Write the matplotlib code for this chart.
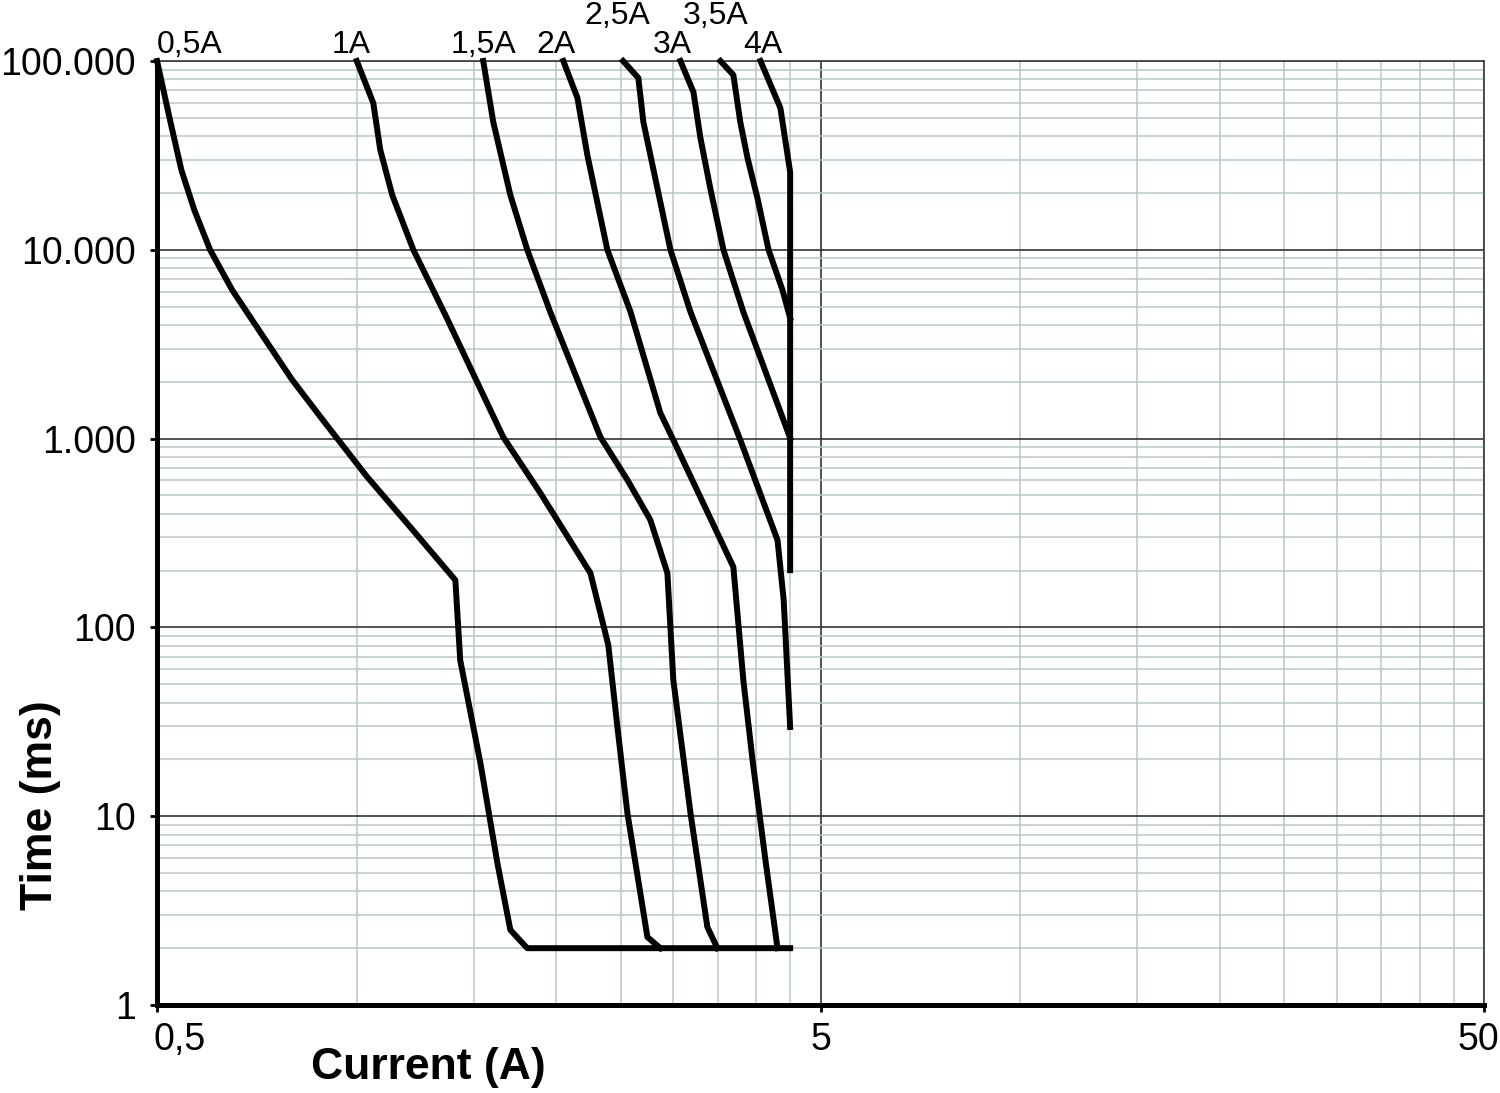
import numpy as np
import matplotlib
matplotlib.use('Agg')
import matplotlib.pyplot as plt
from matplotlib.ticker import FixedLocator, FixedFormatter, NullFormatter
from matplotlib.transforms import ScaledTranslation

plt.rcParams['font.family'] = ['Liberation Sans', 'DejaVu Sans']

# trip curves (current in A, time in ms)
i_05 = [0.50, 0.523, 0.544, 0.569, 0.601, 0.649, 0.720, 0.799, 0.896, 1.037, 1.204, 1.408, 1.432, 1.536, 1.629, 1.704, 1.807, 4.50]
t_05 = [100000, 48700, 26500, 16250, 10000, 6120, 3540, 2050, 1210, 626, 340, 178, 67, 19.1, 5.65, 2.5, 2.0, 2.0]

i_1 = [1.00, 1.059, 1.085, 1.131, 1.217, 1.36, 1.662, 1.891, 2.25, 2.394, 2.47, 2.558, 2.742, 2.868]
t_1 = [100000, 59900, 33800, 19500, 10000, 4515, 1020, 515, 194, 80.7, 30, 10.4, 2.29, 2.0]

i_15 = [1.551, 1.606, 1.704, 1.807, 1.957, 2.329, 2.558, 2.77, 2.939, 3.0, 3.184, 3.376, 3.496]
t_15 = [100000, 47500, 19500, 10000, 4690, 1020, 604, 371, 194, 52.7, 10.4, 2.59, 2.0]

i_2 = [2.048, 2.151, 2.226, 2.386, 2.586, 2.868, 3.0, 3.695, 3.825, 3.949, 4.13, 4.307]
t_2 = [100000, 63700, 31800, 10000, 4690, 1367, 984, 209, 52.7, 19.9, 5.86, 2.0]

i_25 = [2.52, 2.657, 2.704, 2.97, 3.184, 3.785, 4.307, 4.40, 4.50]
t_25 = [100000, 81300, 47500, 10000, 4690, 984, 290, 140, 29.7]

i_3 = [3.075, 3.217, 3.296, 3.41, 3.57, 3.825, 4.50]
t_3 = [100000, 68500, 39100, 21250, 10000, 4690, 1007]

i_35 = [3.533, 3.695, 3.785, 3.881, 4.017, 4.175, 4.382, 4.50]
t_35 = [100000, 84300, 47500, 30650, 18800, 10000, 6120, 4350]

i_4 = [4.06, 4.35, 4.50, 4.50]
t_4 = [100000, 56400, 25800, 201]

curve_labels = ['0,5A', '1A', '1,5A', '2A', '2,5A', '3A', '3,5A', '4A']
label_x = [0.56, 0.98, 1.55, 2.0, 2.47, 2.99, 3.47, 4.09]
label_row = [0, 0, 0, 0, 1, 0, 1, 0]

x_major = [0.5, 5, 50]
x_major_labels = ['0,5', '5', '50']
x_minor = [1, 1.5, 2, 2.5, 3, 3.5, 4, 4.5, 10, 15, 20, 25, 30, 35, 40, 45]
y_major = [1, 10, 100, 1000, 10000, 100000]
y_major_labels = ['1', '10', '100', '1.000', '10.000', '100.000']

fig = plt.figure(figsize=(15, 10.93), dpi=100)
ax = fig.add_axes([0.1047, 0.0805, 0.8846, 0.8637])
ax.set_xscale('log')
ax.set_yscale('log')
ax.set_xlim(0.5, 50)
ax.set_ylim(1, 100000)

ax.xaxis.set_major_locator(FixedLocator(x_major))
ax.xaxis.set_major_formatter(FixedFormatter(x_major_labels))
ax.xaxis.set_minor_locator(FixedLocator(x_minor))
ax.xaxis.set_minor_formatter(NullFormatter())
ax.yaxis.set_major_locator(FixedLocator(y_major))
ax.yaxis.set_major_formatter(FixedFormatter(y_major_labels))
y_minor = [m * d for d in y_major[:-1] for m in range(2, 10)]
ax.yaxis.set_minor_locator(FixedLocator(y_minor))
ax.yaxis.set_minor_formatter(NullFormatter())

ax.grid(which='minor', color='#b6c8c8', linewidth=1.1)
ax.grid(which='major', color='#333333', linewidth=1.2)
ax.set_axisbelow(True)

ax.tick_params(which='major', length=5, width=2, direction='out', labelsize=27, colors='black')
ax.tick_params(axis='y', which='major', pad=10)
ax.tick_params(axis='x', which='major', pad=7)
ax.tick_params(which='minor', length=0)

for s in ['left', 'bottom']:
    ax.spines[s].set_linewidth(3.6)
    ax.spines[s].set_color('black')
for s in ['top', 'right']:
    ax.spines[s].set_linewidth(1.3)
    ax.spines[s].set_color('#444444')

xl = ax.get_xticklabels()
xl[0].set_horizontalalignment('left')
xl[0].set_transform(xl[0].get_transform() + ScaledTranslation(-0.04, 0, fig.dpi_scale_trans))
xl[-1].set_transform(xl[-1].get_transform() + ScaledTranslation(-0.06, 0, fig.dpi_scale_trans))

for xs, ts in [(i_05, t_05), (i_1, t_1), (i_15, t_15), (i_2, t_2),
               (i_25, t_25), (i_3, t_3), (i_35, t_35), (i_4, t_4)]:
    ax.plot(xs, ts, color='black', linewidth=4.3, clip_on=False, zorder=5)

trans = ax.get_xaxis_transform()
for lab, lx, row in zip(curve_labels, label_x, label_row):
    ax.text(lx, 1.0085 if row == 0 else 1.039, lab, transform=trans,
            ha='center', va='baseline', fontsize=23)

fig.text(0.0267, 0.2635, 'Time (ms)', rotation=90, ha='center', va='center',
         fontsize=32, fontweight='bold')
fig.text(0.2853, 0.0229, 'Current (A)', ha='center', va='center',
         fontsize=32, fontweight='bold')

fig.savefig('out.png', dpi=100)
